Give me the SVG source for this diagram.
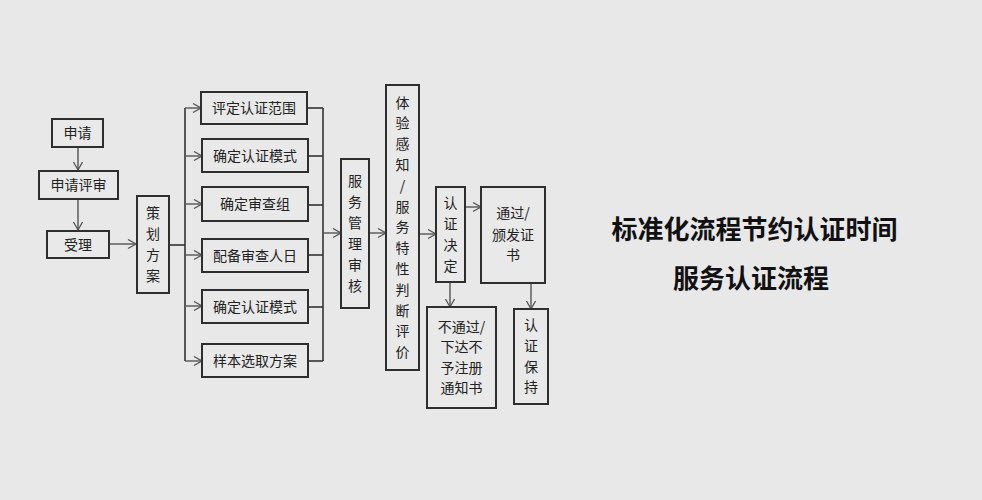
<svg xmlns="http://www.w3.org/2000/svg" width="982" height="500" viewBox="0 0 982 500">
<defs>
<marker id="arr" markerUnits="userSpaceOnUse" markerWidth="12" markerHeight="12" refX="9" refY="5" orient="auto">
<path d="M1,0.5 L9,5 L1,9.5" fill="none" stroke="#555" stroke-width="1.3"/>
</marker>
<style>
.box{fill:#e9e9e9;stroke:#2e2e2e;stroke-width:2}
.t{font-family:"Noto Sans CJK SC","Noto Sans",sans-serif;font-size:14px;fill:#222;text-anchor:middle}
.ln{fill:none;stroke:#333;stroke-width:1.6}
.ar{fill:none;stroke:#555;stroke-width:1.4;marker-end:url(#arr)}
.title{font-family:"Noto Sans CJK SC","Noto Sans",sans-serif;font-size:26px;font-weight:bold;fill:#111;text-anchor:middle}
</style>
</defs>
<rect width="982" height="500" fill="#e8e8e8"/>

<g id="connectors">
<line class="ar" x1="78" y1="147" x2="78" y2="170"/>
<line class="ar" x1="78" y1="199" x2="78" y2="230"/>
<line class="ar" x1="109" y1="244" x2="136" y2="244"/>
<line class="ln" x1="169" y1="245" x2="185" y2="245"/>
<line class="ln" x1="185" y1="108" x2="185" y2="361"/>
<line class="ar" x1="185" y1="108" x2="201" y2="108"/>
<line class="ar" x1="185" y1="156" x2="202" y2="156"/>
<line class="ar" x1="185" y1="204" x2="202" y2="204"/>
<line class="ar" x1="185" y1="255" x2="202" y2="255"/>
<line class="ar" x1="185" y1="306" x2="202" y2="306"/>
<line class="ar" x1="185" y1="361" x2="202" y2="361"/>
<line class="ln" x1="307" y1="108" x2="323" y2="108"/>
<line class="ln" x1="308" y1="156" x2="323" y2="156"/>
<line class="ln" x1="308" y1="205" x2="323" y2="205"/>
<line class="ln" x1="308" y1="255" x2="323" y2="255"/>
<line class="ln" x1="308" y1="307" x2="323" y2="307"/>
<line class="ln" x1="308" y1="361" x2="323" y2="361"/>
<line class="ln" x1="323" y1="108" x2="323" y2="361"/>
<line class="ar" x1="323" y1="233" x2="341" y2="233"/>
<line class="ar" x1="369" y1="233" x2="386" y2="233"/>
<line class="ar" x1="419" y1="234" x2="436" y2="234"/>
<line class="ar" x1="465" y1="207" x2="481" y2="207"/>
<line class="ar" x1="450" y1="282" x2="450" y2="307"/>
<line class="ar" x1="531" y1="283" x2="531" y2="309"/>
</g>

<g id="n-shenqing"><rect class="box" x="52" y="119" width="51" height="28"/><text class="t" x="77.5" y="138">申请</text></g>
<g id="n-pingshen"><rect class="box" x="39" y="171" width="79" height="28"/><text class="t" x="78.5" y="190">申请评审</text></g>
<g id="n-shouli"><rect class="box" x="47" y="231" width="62" height="27"/><text class="t" x="78" y="249.5">受理</text></g>
<g id="n-cehua"><rect class="box" x="137" y="196" width="32" height="97"/>
<text class="t" x="153" y="218">策</text><text class="t" x="153" y="239">划</text><text class="t" x="153" y="260">方</text><text class="t" x="153" y="281">案</text></g>

<g id="n-b1"><rect class="box" x="201" y="92" width="106" height="32"/><text class="t" x="254" y="113">评定认证范围</text></g>
<g id="n-b2"><rect class="box" x="202" y="139" width="106" height="33"/><text class="t" x="255" y="160.5">确定认证模式</text></g>
<g id="n-b3"><rect class="box" x="202" y="187" width="106" height="34"/><text class="t" x="255" y="209">确定审查组</text></g>
<g id="n-b4"><rect class="box" x="202" y="239" width="106" height="33"/><text class="t" x="255" y="260.5">配备审查人日</text></g>
<g id="n-b5"><rect class="box" x="202" y="290" width="106" height="33"/><text class="t" x="255" y="311.5">确定认证模式</text></g>
<g id="n-b6"><rect class="box" x="202" y="344" width="106" height="33"/><text class="t" x="255" y="365.5">样本选取方案</text></g>

<g id="n-fuwu"><rect class="box" x="341" y="159" width="28" height="149"/>
<text class="t" x="355" y="186">服</text><text class="t" x="355" y="207">务</text><text class="t" x="355" y="228">管</text><text class="t" x="355" y="249">理</text><text class="t" x="355" y="270">审</text><text class="t" x="355" y="291">核</text></g>

<g id="n-tiyan"><rect class="box" x="386" y="85" width="33" height="285"/>
<text class="t" x="402.5" y="107.5">体</text><text class="t" x="402.5" y="128.3">验</text><text class="t" x="402.5" y="149.1">感</text><text class="t" x="402.5" y="169.9">知</text><text class="t" x="402.5" y="190.7">/</text><text class="t" x="402.5" y="211.5">服</text><text class="t" x="402.5" y="232.3">务</text><text class="t" x="402.5" y="253.1">特</text><text class="t" x="402.5" y="273.9">性</text><text class="t" x="402.5" y="294.7">判</text><text class="t" x="402.5" y="315.5">断</text><text class="t" x="402.5" y="336.3">评</text><text class="t" x="402.5" y="357.1">价</text></g>

<g id="n-jueding"><rect class="box" x="436" y="187" width="29" height="95"/>
<text class="t" x="450.5" y="208">认</text><text class="t" x="450.5" y="229">证</text><text class="t" x="450.5" y="250">决</text><text class="t" x="450.5" y="271">定</text></g>

<g id="n-tongguo"><rect class="box" x="481" y="187" width="64" height="96"/>
<text class="t" x="513" y="218">通过/</text><text class="t" x="513" y="239.5">颁发证</text><text class="t" x="513" y="260">书</text></g>

<g id="n-butongguo"><rect class="box" x="427" y="307" width="69" height="101"/>
<text class="t" x="461.5" y="331.5">不通过/</text><text class="t" x="461.5" y="352">下达不</text><text class="t" x="461.5" y="372.5">予注册</text><text class="t" x="461.5" y="393">通知书</text></g>

<g id="n-baochi"><rect class="box" x="514" y="309" width="34" height="95"/>
<text class="t" x="531" y="330">认</text><text class="t" x="531" y="351">证</text><text class="t" x="531" y="372">保</text><text class="t" x="531" y="392">持</text></g>

<g id="titles">
<text class="title" x="754.5" y="238.5">标准化流程节约认证时间</text>
<text class="title" x="751" y="288">服务认证流程</text>
</g>
</svg>
